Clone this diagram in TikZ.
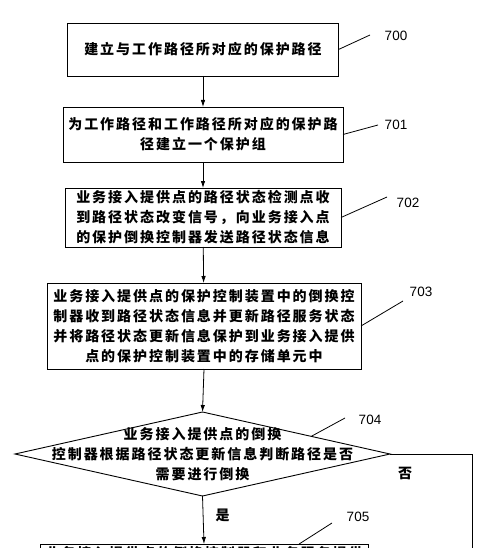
\documentclass[tikz,border=0pt]{standalone}
\usepackage{fontspec}
\newfontfamily\cjk[LetterSpace=14]{Noto Sans CJK SC}
\newfontfamily\numfont{Liberation Sans}
\usetikzlibrary{arrows.meta,calc,shapes.geometric}

\begin{document}
\begin{tikzpicture}[x=1pt, y=-1pt,
    box/.style = {rectangle, draw, line width=0.9pt,% steps of the flow
                  align=center, inner sep=0pt, outer sep=0pt,
                  font=\cjk\bfseries\fontsize{14}{20}\selectfont},
   test/.style = {diamond, draw, line width=0.9pt,% the decision
                  inner sep=0pt, outer sep=0pt},
    txt/.style = {align=center, inner sep=0pt,
                  font=\cjk\bfseries\fontsize{14}{20}\selectfont},
    num/.style = {font=\numfont\fontsize{13.5}{15}\selectfont, inner sep=1pt},
    arr/.style = {line width=0.8pt, -{Latex[length=7pt,width=4.5pt]}},
                        ]
\useasboundingbox (0,0) rectangle (500,548);
\node[box, minimum width=271pt, minimum height=53pt] (b700) at (203,49.5)
     {建立与工作路径所对应的保护路径};
\node[box, minimum width=280pt, minimum height=55pt] (b701) at (203,134.5)
     {为工作路径和工作路径所对应的保护路\\径建立一个保护组};
\node[box, minimum width=276pt, minimum height=59pt] (b702) at (203,217.5)
     {业务接入提供点的路径状态检测点收\\到路径状态改变信号，向业务接入点\\的保护倒换控制器发送路径状态信息};
\node[box, minimum width=314pt, minimum height=86pt] (b703) at (204,326)
     {业务接入提供点的保护控制装置中的倒换控\\制器收到路径状态信息并更新路径服务状态\\并将路径状态更新信息保护到业务接入提供\\点的保护控制装置中的存储单元中};
\node[test, minimum width=375pt, minimum height=84pt] (d704) at (202.5,454) {};
\node[txt] (t704) at (d704.center)
     {业务接入提供点的倒换\\控制器根据路径状态更新信息判断路径是否\\需要进行倒换};
\node[box, anchor=north, minimum width=328pt, minimum height=60pt,
      text height=14pt, text depth=50pt] (b705) at (204,544)
     {业务接入提供点的倒换控制器和业务服务提供};
% flow
\draw[arr] (b700) -- (b701);
\draw[arr] (b701) -- (b702);
\draw[arr] (b702) -- (b703);
\draw[arr] (b703.south) -- (d704.north);
\draw[arr] (d704.south) -- node[txt, pos=0.4, right=12pt] (yes) {是} (b705.north);
\coordinate (no1) at (472,454);
\coordinate (no2) at (472,600);
\draw[line width=0.8pt] (d704.east) -- (no1) -- (no2);
\node[txt] (no) at (405,473) {否};
% reference numbers
\foreach \n/\ex/\ey/\lx/\ly in {700/370/35/396/36, 701/378/125/396/125,
                               702/387/197/408/203, 703/403/301/421/292}{
    \coordinate (e\n) at (\ex,\ey);
    \node[num] (l\n) at (\lx,\ly) {\n};
    \draw[line width=0.8pt] (b\n.east) -- (e\n);
}
\coordinate (e704) at (345,418);
\node[num] (l704) at (370,420) {704};
\draw[line width=0.8pt] ($(d704.north)!.58!(d704.east)$) -- (e704);
\coordinate (e705) at (332,523);
\node[num] (l705) at (358,517) {705};
\draw[line width=0.8pt] ($(b705.north west)!.79!(b705.north east)$) -- (e705);
\end{tikzpicture}
\end{document}
